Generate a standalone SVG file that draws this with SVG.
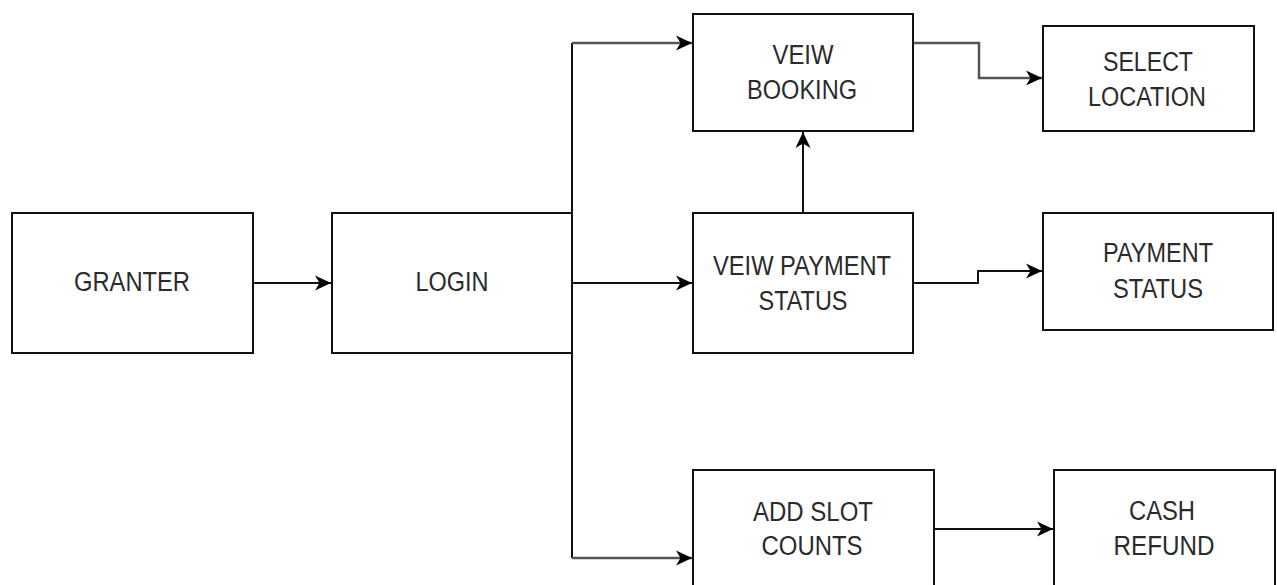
<svg xmlns="http://www.w3.org/2000/svg" width="1277" height="585" viewBox="0 0 1277 585">
<style>
.box{fill:#fff;stroke:#111;stroke-width:2}
.t{font-family:"Liberation Sans",Arial,sans-serif;font-size:27px;fill:#2b2b2b;text-anchor:middle}
.c{fill:none;stroke:#111;stroke-width:2}
.g{fill:none;stroke:#555;stroke-width:2.5}
</style>
<defs>
<marker id="ah" markerUnits="userSpaceOnUse" markerWidth="18" markerHeight="18" viewBox="0 0 18 18" refX="16" refY="9" orient="auto">
<path d="M0,1.5 L16,9 L0,16.5 L4.5,9 Z" fill="#000"/>
</marker>
</defs>
<rect width="1277" height="585" fill="#fff"/>
<g id="connectors">
<path class="c" d="M253,283 L331,283" marker-end="url(#ah)"/>
<path class="c" d="M572,213 L572,43"/>
<path class="g" d="M572,43 L692,43" marker-end="url(#ah)"/>
<path class="c" d="M572,283 L692,283" marker-end="url(#ah)"/>
<path class="c" d="M572,353 L572,558"/>
<path class="g" d="M572,558 L692,558" marker-end="url(#ah)"/>
<path class="c" d="M803,213 L803,132" marker-end="url(#ah)"/>
<path class="g" d="M913,43 L979,43 L979,78 L1042,78" marker-end="url(#ah)"/>
<path class="c" d="M913,283 L978,283 L978,271 L1042,271" marker-end="url(#ah)"/>
<path class="c" d="M934,529 L1053,529" marker-end="url(#ah)"/>
</g>
<g id="granter">
<rect class="box" x="12" y="213" width="241" height="140"/>
<text class="t" x="132" y="291" textLength="116" lengthAdjust="spacingAndGlyphs">GRANTER</text>
</g>
<g id="login">
<rect class="box" x="332" y="213" width="240" height="140"/>
<text class="t" x="452" y="291" textLength="73" lengthAdjust="spacingAndGlyphs">LOGIN</text>
</g>
<g id="veiw-booking">
<rect class="box" x="693" y="14" width="220" height="117"/>
<text class="t" x="803" y="64" textLength="61" lengthAdjust="spacingAndGlyphs">VEIW</text>
<text class="t" x="802" y="99" textLength="110" lengthAdjust="spacingAndGlyphs">BOOKING</text>
</g>
<g id="veiw-payment-status">
<rect class="box" x="693" y="213" width="220" height="140"/>
<text class="t" x="802" y="275" textLength="178" lengthAdjust="spacingAndGlyphs">VEIW PAYMENT</text>
<text class="t" x="803" y="310" textLength="89" lengthAdjust="spacingAndGlyphs">STATUS</text>
</g>
<g id="select-location">
<rect class="box" x="1043" y="26" width="211" height="105"/>
<text class="t" x="1148" y="71" textLength="90" lengthAdjust="spacingAndGlyphs">SELECT</text>
<text class="t" x="1147" y="106" textLength="118" lengthAdjust="spacingAndGlyphs">LOCATION</text>
</g>
<g id="payment-status">
<rect class="box" x="1043" y="213" width="230" height="117"/>
<text class="t" x="1158" y="262" textLength="110" lengthAdjust="spacingAndGlyphs">PAYMENT</text>
<text class="t" x="1158" y="298" textLength="90" lengthAdjust="spacingAndGlyphs">STATUS</text>
</g>
<g id="add-slot-counts">
<rect class="box" x="693" y="470" width="241" height="130"/>
<text class="t" x="813" y="521" textLength="120" lengthAdjust="spacingAndGlyphs">ADD SLOT</text>
<text class="t" x="812" y="555" textLength="101" lengthAdjust="spacingAndGlyphs">COUNTS</text>
</g>
<g id="cash-refund">
<rect class="box" x="1054" y="470" width="221" height="130"/>
<text class="t" x="1162" y="520" textLength="66" lengthAdjust="spacingAndGlyphs">CASH</text>
<text class="t" x="1164" y="555" textLength="101" lengthAdjust="spacingAndGlyphs">REFUND</text>
</g>
</svg>
